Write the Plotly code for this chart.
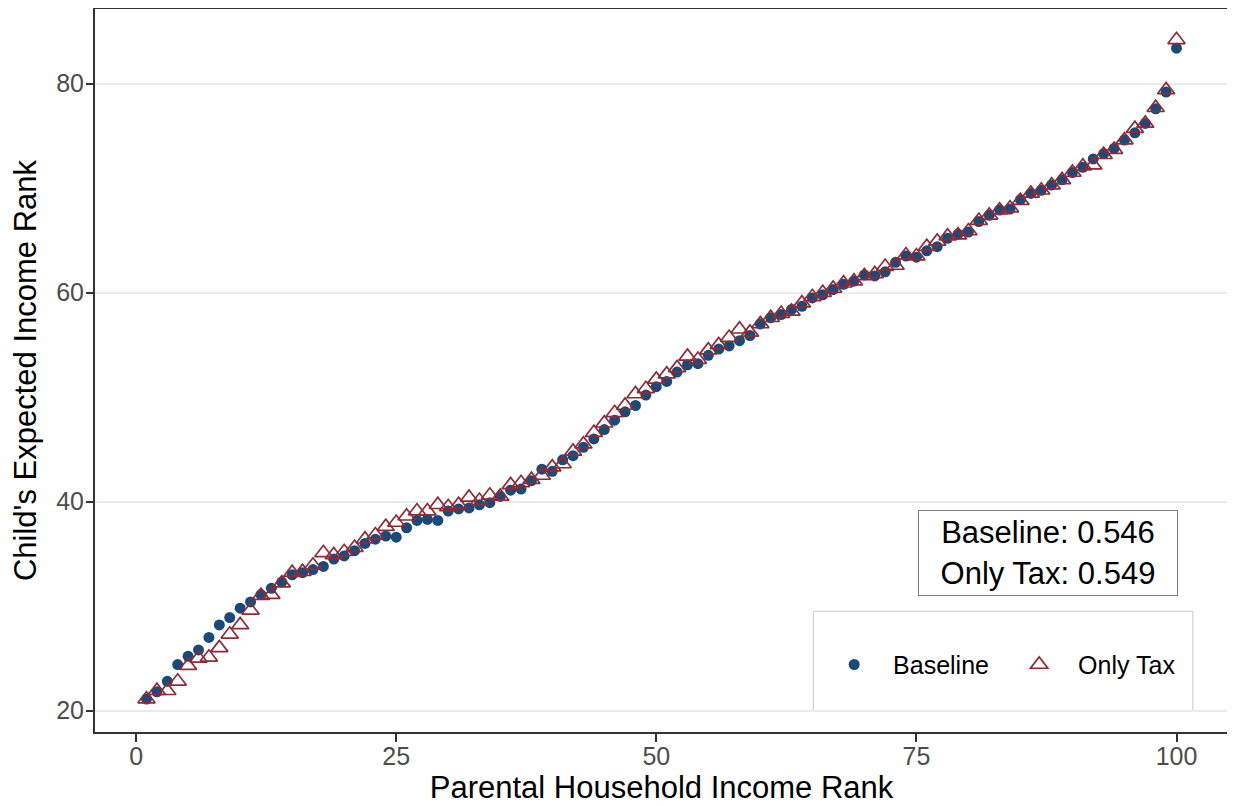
import plotly.graph_objects as go

rank = list(range(1, 101))

baseline = [21.1, 21.8, 22.8, 24.4, 25.2, 25.8, 27.0, 28.2, 28.9, 29.8,
            30.4, 31.1, 31.7, 32.3, 33.0, 33.2, 33.5, 33.8, 34.5, 34.8,
            35.3, 36.0, 36.4, 36.7, 36.6, 37.5, 38.2, 38.3, 38.2, 39.1,
            39.3, 39.4, 39.7, 39.9, 40.5, 41.1, 41.2, 42.0, 43.1, 42.9,
            44.0, 44.4, 45.2, 46.0, 46.9, 47.8, 48.6, 49.2, 50.2, 51.0,
            51.5, 52.4, 53.1, 53.2, 54.0, 54.6, 54.9, 55.4, 55.9, 57.0,
            57.6, 57.9, 58.4, 58.7, 59.5, 59.8, 60.3, 60.8, 61.1, 61.7,
            61.6, 62.0, 62.9, 63.5, 63.4, 64.0, 64.4, 65.2, 65.6, 65.8,
            66.8, 67.4, 67.9, 68.0, 68.9, 69.5, 69.8, 70.3, 70.8, 71.5,
            72.0, 72.8, 73.3, 73.8, 74.6, 75.3, 76.2, 77.6, 79.2, 83.4]

only_tax = [21.1, 21.9, 21.9, 22.8, 24.3, 25.0, 25.1, 26.0, 27.3, 28.2,
            29.6, 31.0, 31.1, 32.2, 33.2, 33.3, 33.9, 35.1, 34.9, 35.2,
            35.6, 36.4, 36.8, 37.6, 38.0, 38.6, 39.1, 39.1, 39.7, 39.5,
            39.7, 40.4, 40.1, 40.6, 40.5, 41.6, 41.8, 42.1, 42.5, 43.3,
            43.6, 44.8, 45.5, 46.6, 47.5, 48.5, 49.2, 50.3, 50.8, 51.7,
            52.2, 52.8, 53.9, 53.6, 54.5, 55.0, 55.7, 56.5, 56.2, 57.0,
            57.6, 58.0, 58.2, 59.0, 59.6, 60.0, 60.4, 60.9, 61.1, 61.6,
            61.8, 62.5, 62.6, 63.6, 63.5, 64.4, 64.9, 65.4, 65.5, 65.9,
            66.9, 67.4, 67.9, 68.1, 68.8, 69.5, 69.8, 70.3, 70.8, 71.5,
            72.1, 72.2, 73.2, 73.7, 74.6, 75.7, 76.2, 77.7, 79.4, 84.2]

series_names = ["Baseline", "Only Tax"]
stats_text = ["Baseline: 0.546", "Only Tax: 0.549"]
x_ticks = [0, 25, 50, 75, 100]
y_ticks = [20, 40, 60, 80]

BLUE = "#1b4a78"
RED = "#8e2b36"
FONT = "Liberation Sans, Arial, Helvetica, sans-serif"
NB = "\u00a0\u00a0"

fig = go.Figure()
fig.add_trace(go.Scatter(
    x=rank, y=baseline, mode="markers", name=NB + series_names[0],
    marker=dict(symbol="circle", size=11, color=BLUE, line=dict(width=0)),
))
fig.add_trace(go.Scatter(
    x=rank, y=only_tax, mode="markers", name=NB + series_names[1],
    marker=dict(symbol="triangle-up-open", size=15, color=RED,
                line=dict(width=1.7, color=RED)),
))

# legend frame (ggplot-style legend box)
fig.add_shape(type="rect", xref="paper", yref="paper",
              x0=0.634, x1=0.969, y0=0.029, y1=0.167,
              line=dict(color="#c8c8c8", width=1), fillcolor="white", layer="below")

fig.add_annotation(
    xref="paper", yref="paper", x=0.841, y=0.247,
    xanchor="center", yanchor="middle",
    text="<br>".join(stats_text), showarrow=False,
    font=dict(family=FONT, size=31, color="black"),
    align="center", bordercolor="#7f7f7f", borderwidth=1, borderpad=1,
    width=256, height=82,
    bgcolor="white",
)

# page body adds an 8px offset; compensate in size and margins
fig.update_layout(
    width=1227, height=799,
    margin=dict(l=87, r=7, t=1, b=75),
    plot_bgcolor="white", paper_bgcolor="white",
    font=dict(family=FONT),
    showlegend=True,
    legend=dict(
        orientation="h", x=0.648, y=0.093, xanchor="left", yanchor="middle",
        bgcolor="rgba(0,0,0,0)", borderwidth=0,
        font=dict(family=FONT, size=25, color="black"),
        itemwidth=40, traceorder="normal",
        entrywidth=130, entrywidthmode="pixels",
    ),
    xaxis=dict(
        range=[-3.95, 104.95], tickvals=x_ticks, ticktext=[str(v) for v in x_ticks],
        showgrid=False, zeroline=False, automargin=False,
        ticks="outside", ticklen=8, tickwidth=2, tickcolor="#333333",
        ticklabelstandoff=-7,
        tickfont=dict(family=FONT, size=25, color="#4d4d4d"),
        showline=True, linecolor="#333333", linewidth=2, mirror=True,
        title=dict(text="Parental Household Income Rank", standoff=7,
                   font=dict(family=FONT, size=31, color="black")),
    ),
    yaxis=dict(
        range=[17.95, 87.15], tickvals=y_ticks, ticktext=[str(v) for v in y_ticks],
        showgrid=True, gridcolor="#ebebeb", gridwidth=2, zeroline=False,
        automargin=False,
        ticks="outside", ticklen=7, tickwidth=2, tickcolor="#333333",
        ticklabelstandoff=-3,
        tickfont=dict(family=FONT, size=25, color="#4d4d4d"),
        showline=True, linecolor="#333333", linewidth=2, mirror=True,
        title=dict(text="Child's Expected Income Rank", standoff=10,
                   font=dict(family=FONT, size=31, color="black")),
    ),
)

fig.write_html("out.html")
